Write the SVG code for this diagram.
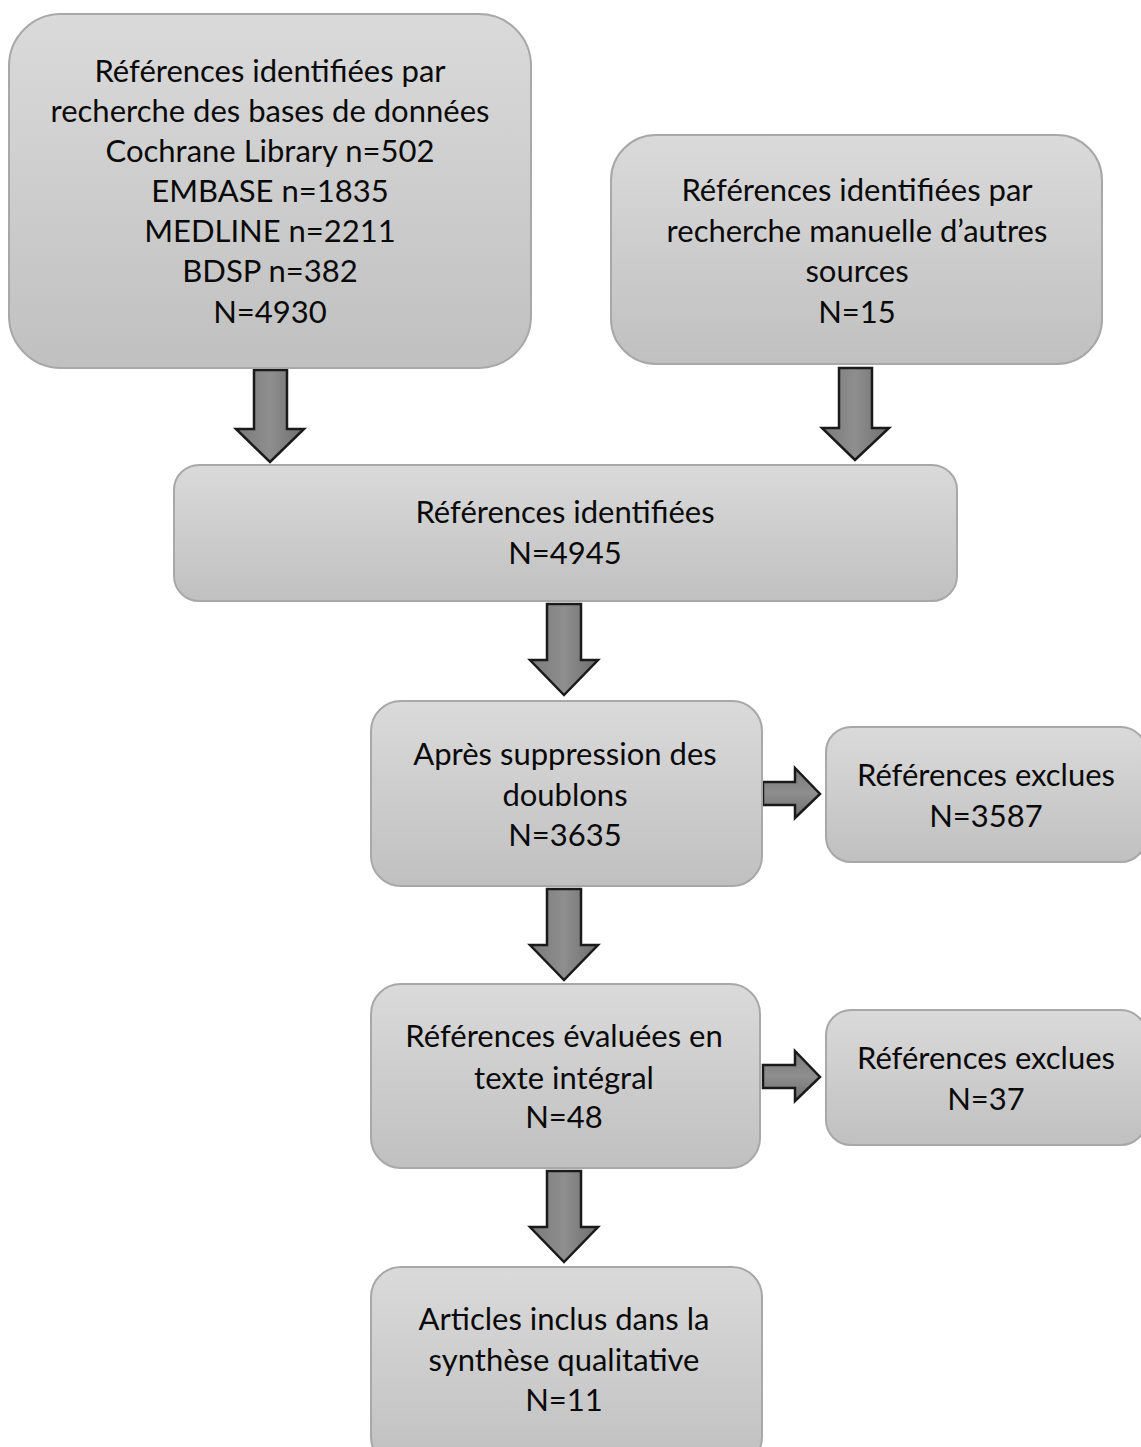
<svg xmlns="http://www.w3.org/2000/svg" width="1141" height="1447" viewBox="0 0 1141 1447">
<defs>
<linearGradient id="boxg" x1="0" y1="0" x2="0" y2="1">
<stop offset="0" stop-color="#dadada"/>
<stop offset="1" stop-color="#c0c0c0"/>
</linearGradient>
<linearGradient id="arrg" x1="0" y1="0" x2="1" y2="0">
<stop offset="0" stop-color="#7a7a7a"/>
<stop offset="0.5" stop-color="#8e8e8e"/>
<stop offset="1" stop-color="#6e6e6e"/>
</linearGradient>
<linearGradient id="arrgh" x1="0" y1="0" x2="0" y2="1">
<stop offset="0" stop-color="#7a7a7a"/>
<stop offset="0.5" stop-color="#8e8e8e"/>
<stop offset="1" stop-color="#6e6e6e"/>
</linearGradient>
</defs>
<style>
.box{fill:url(#boxg);stroke:#a8a8a8;stroke-width:2}
.t{font-family:Lato,"Liberation Sans",sans-serif;font-size:31px;fill:#0a0a0a;text-anchor:middle}
.arr{fill:url(#arrg);stroke:#1a1a1a;stroke-width:2.5;stroke-linejoin:miter}
.arrh{fill:url(#arrgh);stroke:#1a1a1a;stroke-width:2.5;stroke-linejoin:miter}
</style>
<rect width="1141" height="1447" fill="#fff"/>
<g id="connectors">
<path class="arr" d="M254,370 H287 V429 H304 L270,462 L236,429 H254 Z"/>
<path class="arr" d="M839,368 H872 V428 H889 L855,460 L822,428 H839 Z"/>
<path class="arr" d="M547,604 H581 V660 H598 L564,695 L530,660 H547 Z"/>
<path class="arr" d="M547,889 H581 V945 H598 L564,980 L530,945 H547 Z"/>
<path class="arr" d="M547,1171 H581 V1227 H598 L564,1262 L530,1227 H547 Z"/>
<path class="arrh" d="M763,782 H795 V768 L820,794 L795,818 V805 H763 Z"/>
<path class="arrh" d="M763,1065 H795 V1051 L820,1077 L795,1101 V1088 H763 Z"/>
</g>
<g id="n1">
<rect class="box" x="9" y="14" width="522" height="354" rx="52"/>
<text class="t" x="270" y="82">Références identifiées par</text>
<text class="t" x="270" y="122">recherche des bases de données</text>
<text class="t" x="270" y="162">Cochrane Library n=502</text>
<text class="t" x="270" y="202">EMBASE n=1835</text>
<text class="t" x="270" y="242">MEDLINE n=2211</text>
<text class="t" x="270" y="282">BDSP n=382</text>
<text class="t" x="270" y="323">N=4930</text>
</g>
<g id="n2">
<rect class="box" x="611" y="135" width="491" height="229" rx="45"/>
<text class="t" x="857" y="201">Références identifiées par</text>
<text class="t" x="857" y="242">recherche manuelle d’autres</text>
<text class="t" x="857" y="282">sources</text>
<text class="t" x="857" y="323">N=15</text>
</g>
<g id="n3">
<rect class="box" x="174" y="465" width="783" height="136" rx="25"/>
<text class="t" x="565" y="523">Références identifiées</text>
<text class="t" x="565" y="564">N=4945</text>
</g>
<g id="n4">
<rect class="box" x="371" y="701" width="391" height="185" rx="30"/>
<text class="t" x="565" y="765">Après suppression des</text>
<text class="t" x="565" y="806">doublons</text>
<text class="t" x="565" y="846">N=3635</text>
</g>
<g id="n5">
<rect class="box" x="826" y="727" width="320" height="135" rx="25"/>
<text class="t" x="986" y="786">Références exclues</text>
<text class="t" x="986" y="827">N=3587</text>
</g>
<g id="n6">
<rect class="box" x="371" y="984" width="389" height="184" rx="30"/>
<text class="t" x="564" y="1047">Références évaluées en</text>
<text class="t" x="564" y="1089">texte intégral</text>
<text class="t" x="564" y="1128">N=48</text>
</g>
<g id="n7">
<rect class="box" x="826" y="1010" width="320" height="135" rx="25"/>
<text class="t" x="986" y="1069">Références exclues</text>
<text class="t" x="986" y="1110">N=37</text>
</g>
<g id="n8">
<rect class="box" x="371" y="1267" width="391" height="200" rx="30"/>
<text class="t" x="564" y="1330">Articles inclus dans la</text>
<text class="t" x="564" y="1371">synthèse qualitative</text>
<text class="t" x="564" y="1411">N=11</text>
</g>
</svg>
